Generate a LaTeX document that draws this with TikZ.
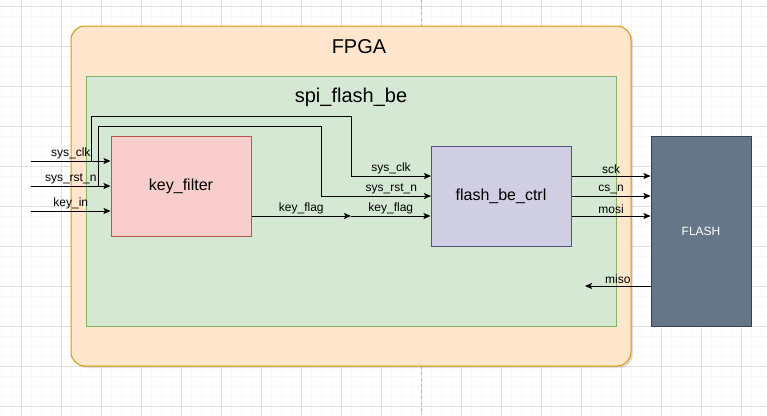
\documentclass[tikz,border=0pt]{standalone}
\usepackage{fontspec}
\setmainfont{Liberation Sans}
\usetikzlibrary{arrows.meta,shadows}

\definecolor{fpgafill}{HTML}{FFE6CC}
\definecolor{fpgaline}{HTML}{D79B00}
\definecolor{topfill}{HTML}{D5E8D4}
\definecolor{topline}{HTML}{82B366}
\definecolor{keyfill}{HTML}{F8CECC}
\definecolor{keyline}{HTML}{B85450}
\definecolor{ctrlfill}{HTML}{D0CEE2}
\definecolor{ctrlline}{HTML}{56517E}
\definecolor{flashfill}{HTML}{647687}
\definecolor{flashline}{HTML}{314354}

\begin{document}
\begin{tikzpicture}[x=1pt,y=-1pt,
  minorgrid/.style={draw=black!3,line width=0.8pt},
  majorgrid/.style={draw=black!12,line width=0.8pt},
  block/.style={draw,line width=1pt,inner sep=0pt},
  wire/.style={line width=1pt,-{Stealth[length=7pt,width=6pt,inset=1.5pt]}},
  net/.style={line width=1pt},
  sig/.style={font=\fontsize{12pt}{14pt}\selectfont,inner sep=1.5pt}]

% page and grid
\useasboundingbox (0,0) rectangle (767,415);
\fill[white] (0,0) rectangle (767,415);
\foreach \x in {1,11,...,761} \draw[minorgrid] (\x,0) -- (\x,415);
\foreach \y in {6,16,...,406} \draw[minorgrid] (0,\y) -- (767,\y);
\foreach \x in {21,61,...,741} \draw[majorgrid] (\x,0) -- (\x,415);
\foreach \y in {6,46,...,406} \draw[majorgrid] (0,\y) -- (767,\y);
\draw[black!30,dashed,line width=0.8pt] (421,0) -- (421,415);

% the FPGA and the spi_flash_be module
\node[block,draw=fpgaline,fill=fpgafill,rounded corners=14pt,
  drop shadow={shadow xshift=2pt,shadow yshift=-2pt,opacity=0.25},
  minimum width=560pt,minimum height=340pt] (fpga) at (351,196) {};
\node[font=\fontsize{20pt}{24pt}\selectfont] (fpganame) at (359,47) {FPGA};
\node[block,draw=topline,fill=topfill,
  minimum width=530pt,minimum height=250pt] (top) at (351,201) {};
\node[font=\fontsize{20pt}{24pt}\selectfont] (topname) at (351,97) {spi\_flash\_be};

% the two sub modules and the flash chip
\node[block,draw=keyline,fill=keyfill,minimum width=140pt,minimum height=100pt,
  font=\fontsize{16pt}{19pt}\selectfont] (kf) at (181,186) {key\_filter};
\node[block,draw=ctrlline,fill=ctrlfill,minimum width=140pt,minimum height=100pt,
  font=\fontsize{16pt}{19pt}\selectfont] (ctrl) at (501,196) {flash\_be\_ctrl};
\node[block,draw=flashline,fill=flashfill,text=white,minimum width=100pt,minimum height=190pt,
  font=\fontsize{12pt}{14pt}\selectfont] (flash) at (701,231) {FLASH};

% free ends and bends
\coordinate (inclk) at (31,161);
\coordinate (inrst) at (31,186);
\coordinate (inkey) at (31,211);
\coordinate (clkbr) at (91,161);
\coordinate (rstbr) at (98,186);
\coordinate (clktop) at (351,116);
\coordinate (rsttop) at (321,126);
\coordinate (ctrlclk) at (431,176);
\coordinate (ctrlrst) at (431,196);
\coordinate (flagmid) at (351,216);
\coordinate (misoend) at (585,286);

% inputs of key_filter
\draw[wire] (inclk) -- node[sig,above] {sys\_clk} (inclk -| kf.west);
\draw[wire] (inrst) -- node[sig,above] {sys\_rst\_n} (inrst -| kf.west);
\draw[wire] (inkey) -- node[sig,above] {key\_in} (inkey -| kf.west);

% clock and reset to flash_be_ctrl
\draw[net] (clkbr) |- (clktop);
\draw[wire] (clktop) |- node[sig,above,pos=0.75] {sys\_clk} (ctrlclk);
\draw[net] (rstbr) |- (rsttop);
\draw[wire] (rsttop) |- node[sig,above,pos=0.82] {sys\_rst\_n} (ctrlrst);

% key_flag
\draw[wire] (kf.east |- flagmid) -- node[sig,above] {key\_flag} (flagmid);
\draw[wire] (flagmid) -- node[sig,above] {key\_flag} (flagmid -| ctrl.west);

% spi bus
\draw[wire] (ctrl.east |- ctrlclk) -- node[sig,above] {sck} (flash.west |- ctrlclk);
\draw[wire] (ctrl.east |- ctrlrst) -- node[sig,above] {cs\_n} (flash.west |- ctrlrst);
\draw[wire] (ctrl.east |- flagmid) -- node[sig,above] {mosi} (flash.west |- flagmid);
\draw[wire] (flash.west |- misoend) -- node[sig,above] {miso} (misoend);

\end{tikzpicture}
\end{document}
